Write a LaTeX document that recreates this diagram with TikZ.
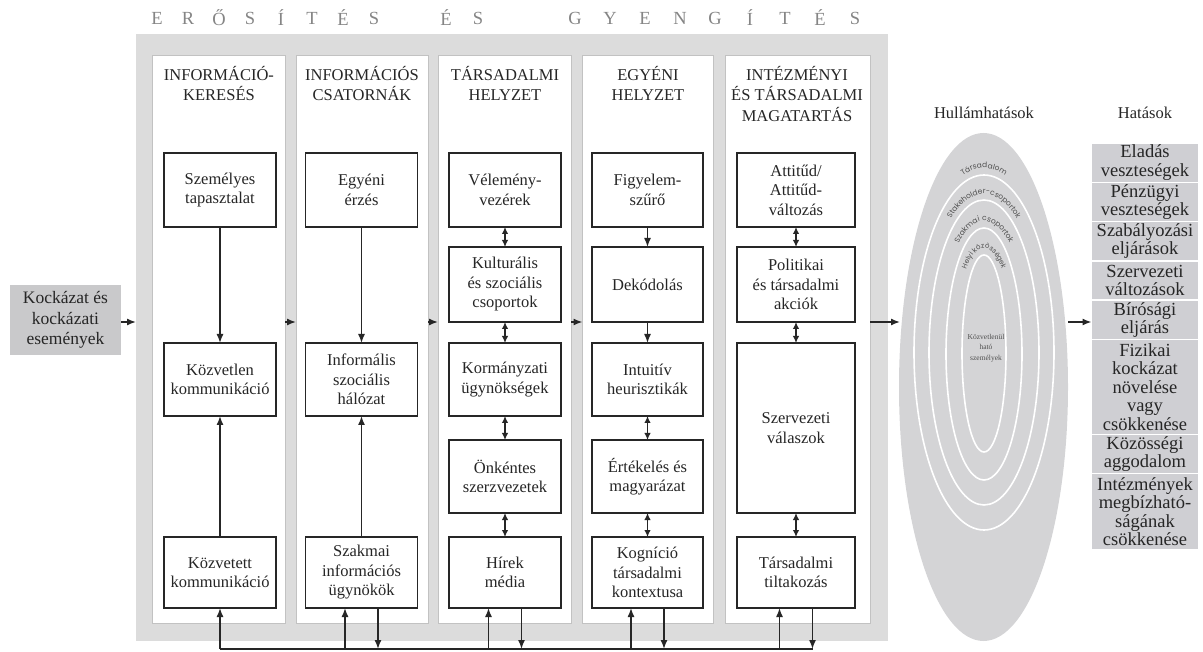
\documentclass[tikz,border=0pt]{standalone}
\usepackage{fontspec}
\setmainfont{Liberation Serif}
\newfontfamily\ringfont{Poppins}
\usetikzlibrary{arrows.meta,decorations.text,shapes.geometric,calc}
\definecolor{panelgray}{HTML}{DCDCDC}
\definecolor{colborder}{HTML}{C2C2C2}
\definecolor{ellgray}{HTML}{D4D4D6}
\definecolor{hatgray}{HTML}{CFCFD3}
\definecolor{kockgray}{HTML}{C9C9CB}
\definecolor{titlegray}{HTML}{858585}
\definecolor{txt}{HTML}{262626}
\definecolor{ringtxt}{HTML}{505050}
\begin{document}
\begin{tikzpicture}[x=1pt,y=-1pt,
  every node/.style={inner sep=0pt,outer sep=0pt},
  colpanel/.style={fill=white,draw=colborder,line width=0.8pt},
  box/.style={draw=txt,line width=1.4pt,fill=white,align=center,text=txt,
    font=\fontsize{16.5}{19.5}\selectfont,minimum height=#1},
  box/.default=73pt,
  w1/.style={minimum width=112pt},
  w2/.style={minimum width=112pt},
  w3/.style={minimum width=112pt},
  w4/.style={minimum width=111pt},
  w5/.style={minimum width=118pt},
  head/.style={align=center,anchor=north,text=txt,font=\fontsize{16.5}{20.5}\selectfont},
  ttl/.style={text=titlegray,font=\fontsize{18.5}{18.5}\selectfont},
  hat/.style={fill=hatgray,draw=white,line width=1.5pt,align=center,text=txt,
    minimum width=107pt,font=\fontsize{18.5}{18.5}\selectfont,minimum height=#1},
  arr/.style={draw=txt,line width=1.4pt,-{Latex[length=9pt,width=7pt]}},
  darr/.style={draw=txt,line width=1.4pt,{Latex[length=7pt,width=6.5pt]}-{Latex[length=7pt,width=6.5pt]}},
  fbline/.style={draw=txt,line width=1.4pt},
  ringline/.style={draw=white,line width=1.6pt}
]
\useasboundingbox (0,0) rectangle (1203,652);

% title letters
\foreach \l [count=\i from 0] in {E,R,Ő,S,Í,T,É,S}
  \node[ttl] (ta\i) at (157+31*\i,18) {\l};
\foreach \l [count=\i from 0] in {É,S}
  \node[ttl] (tb\i) at (446+32*\i,18) {\l};
\foreach \l [count=\i from 0] in {G,Y,E,N,G,Í,T,É,S}
  \node[ttl] (tc\i) at (575+35*\i,18) {\l};

% main panel
\node[fill=panelgray,minimum width=752pt,minimum height=607pt] (panel) at (512,337.5) {};
\coordinate (midy) at (0,322);
\coordinate (fby) at (0,649);

% column panels
\node[colpanel,minimum width=133pt,minimum height=568pt] (p1) at (218.5,339) {};
\node[colpanel,minimum width=132pt,minimum height=568pt] (p2) at (362,339) {};
\node[colpanel,minimum width=133pt,minimum height=568pt] (p3) at (504.5,339) {};
\node[colpanel,minimum width=131pt,minimum height=568pt] (p4) at (648,339) {};
\node[colpanel,minimum width=145pt,minimum height=568pt] (p5) at (797.5,339) {};

% headers
\node[head] (h1) at (219,66) {INFORMÁCIÓ-\\KERESÉS};
\node[head] (h2) at (362,66) {INFORMÁCIÓS\\CSATORNÁK};
\node[head] (h3) at (505,66) {TÁRSADALMI\\HELYZET};
\node[head] (h4) at (648,66) {EGYÉNI\\HELYZET};
\node[head] (h5) at (797,66) {INTÉZMÉNYI\\ÉS TÁRSADALMI\\MAGATARTÁS};

% column 1
\node[box=74pt,w1] (a1) at (220,190) {Személyes\\tapasztalat};
\node[box,w1] (c1) at (220,379.5) {Közvetlen\\kommunikáció};
\node[box=71pt,w1] (e1) at (220,572.5) {Közvetett\\kommunikáció};
% column 2
\node[box=74pt,w2] (a2) at (361.5,190) {Egyéni\\érzés};
\node[box,w2] (c2) at (361.5,379.5) {Informális\\szociális\\hálózat};
\node[box=71pt,w2] (e2) at (361.5,572.5) {Szakmai\\információs\\ügynökök};
% column 3
\node[box=74pt,w3] (a3) at (505,190) {Vélemény-\\vezérek};
\node[box=75pt,w3] (b3) at (505,284.5) {Kulturális\\és szociális\\csoportok};
\node[box,w3] (c3) at (505,379.5) {Kormányzati\\ügynökségek};
\node[box,w3] (d3) at (505,476.5) {Önkéntes\\szerzvezetek};
\node[box=71pt,w3] (e3) at (505,572.5) {Hírek\\média};
% column 4
\node[box=74pt,w4] (a4) at (647.5,190) {Figyelem-\\szűrő};
\node[box=75pt,w4] (b4) at (647.5,284.5) {Dekódolás};
\node[box,w4] (c4) at (647.5,379.5) {Intuitív\\heurisztikák};
\node[box,w4] (d4) at (647.5,476.5) {Értékelés és\\magyarázat};
\node[box=71pt,w4] (e4) at (647.5,572.5) {Kogníció\\társadalmi\\kontextusa};
% column 5
\node[box=74pt,w5] (a5) at (796,190) {Attitűd/\\Attitűd-\\változás};
\node[box=75pt,w5] (b5) at (796,284.5) {Politikai\\és társadalmi\\akciók};
\node[box=170pt,w5] (c5) at (796,428) {Szervezeti\\válaszok};
\node[box=71pt,w5] (e5) at (796,572.5) {Társadalmi\\tiltakozás};

% in-column connectors
\draw[arr] (a1) -- (c1);
\draw[arr] (e1) -- (c1);
\draw[arr] (a2) -- (c2);
\draw[arr] (e2) -- (c2);
\draw[darr] (a3) -- (b3);
\draw[darr] (b3) -- (c3);
\draw[darr] (c3) -- (d3);
\draw[darr] (d3) -- (e3);
\draw[arr] (a4) -- (b4);
\draw[arr] (b4) -- (c4);
\draw[darr] (c4) -- (d4);
\draw[darr] (d4) -- (e4);
\draw[darr] (a5) -- (b5);
\draw[darr] (b5) -- (c5);
\draw[darr] (c5) -- (e5);

% left input
\node[fill=kockgray,minimum width=111pt,minimum height=70pt,align=center,text=txt,
  font=\fontsize{17.5}{20.5}\selectfont] (kock) at (65.5,320) {Kockázat és\\kockázati\\események};
\draw[arr] (kock.east |- midy) -- (panel.west |- midy);

% between columns
\draw[arr] (p1.east |- midy) -- (p2.west |- midy);
\draw[arr] (p2.east |- midy) -- (p3.west |- midy);
\draw[arr] (p3.east |- midy) -- (p4.west |- midy);

% ripple ellipse
\node[text=txt,font=\fontsize{16.5}{16.5}\selectfont] (hullt) at (984,113) {Hullámhatások};
\node[ellipse,fill=ellgray,minimum width=169pt,minimum height=508pt] (ell) at (983.5,387) {};
\draw[ringline] (984,352.5) ellipse [x radius=70, y radius=177.5];
\draw[ringline] (984,352.5) ellipse [x radius=55, y radius=152.5];
\draw[ringline] (984,354) ellipse [x radius=38, y radius=126];
\draw[ringline] (984,353.5) ellipse [x radius=22, y radius=98.5];
\path[decorate,decoration={text along path,text align=center,
  text={|\ringfont\fontsize{7.5}{7.5}\selectfont\color{ringtxt}|Társadalom}}]
  (908,355) arc[start angle=180,end angle=360,x radius=76,y radius=187];
\path[decorate,decoration={text along path,text align=center,
  text={|\ringfont\fontsize{7.5}{7.5}\selectfont\color{ringtxt}|Stakeholder-csoportok}}]
  (922,355) arc[start angle=180,end angle=360,x radius=62,y radius=161];
\path[decorate,decoration={text along path,text align=center,
  text={|\ringfont\fontsize{7.5}{7.5}\selectfont\color{ringtxt}|Szakmai csoportok}}]
  (938,355) arc[start angle=180,end angle=360,x radius=46,y radius=134];
\path[decorate,decoration={text along path,text align=center,
  text={|\ringfont\fontsize{7}{7}\selectfont\color{ringtxt}|Helyi közösségek}}]
  (954,355) arc[start angle=180,end angle=360,x radius=30,y radius=107];
\node[align=center,text=ringtxt,font=\fontsize{7.5}{10.5}\selectfont] (kozv) at (986,348) {Közvetlenül\\ható\\személyek};
\coordinate (ellin) at (900,322);
\coordinate (ellout) at (1068,322);
\draw[arr] (p5.east |- midy) -- (ellin);

% effects
\node[text=txt,font=\fontsize{16.5}{16.5}\selectfont] (hatt) at (1145,113) {Hatások};
\node[hat=39.3pt] (h01) at (1145,162.65) {Eladás\\veszteségek};
\node[hat=39.3pt] (h02) at (1145,201.95) {Pénzügyi\\veszteségek};
\node[hat=39.3pt] (h03) at (1145,241.25) {Szabályozási\\eljárások};
\node[hat=39.3pt] (h04) at (1145,280.55) {Szervezeti\\változások};
\node[hat=39.3pt] (h05) at (1145,319.85) {Bírósági\\eljárás};
\node[hat=94.8pt] (h06) at (1145,386.9) {Fizikai\\kockázat\\növelése\\vagy\\csökkenése};
\node[hat=39.3pt] (h07) at (1145,453.95) {Közösségi\\aggodalom};
\node[hat=76.3pt] (h08) at (1145,511.75) {Intézmények\\megbízható-\\ságának\\csökkenése};
\draw[arr] (ellout) -- (h05.west |- midy);

% feedback loop
\draw[fbline] (e1.south |- fby) -- ([xshift=16.5pt]e5.south |- fby);
\draw[arr] (e1.south |- fby) -- (e1.south);
\draw[arr] ([xshift=-16.5pt]e2.south |- fby) -- ([xshift=-16.5pt]e2.south);
\draw[arr] ([xshift=16.5pt]e2.south) -- ([xshift=16.5pt]e2.south |- fby);
\draw[arr] ([xshift=-16.5pt]e3.south |- fby) -- ([xshift=-16.5pt]e3.south);
\draw[arr] ([xshift=16.5pt]e3.south) -- ([xshift=16.5pt]e3.south |- fby);
\draw[arr] ([xshift=-16.5pt]e4.south |- fby) -- ([xshift=-16.5pt]e4.south);
\draw[arr] ([xshift=16.5pt]e4.south) -- ([xshift=16.5pt]e4.south |- fby);
\draw[arr] ([xshift=-16.5pt]e5.south |- fby) -- ([xshift=-16.5pt]e5.south);
\draw[arr] ([xshift=16.5pt]e5.south) -- ([xshift=16.5pt]e5.south |- fby);
\end{tikzpicture}
\end{document}
